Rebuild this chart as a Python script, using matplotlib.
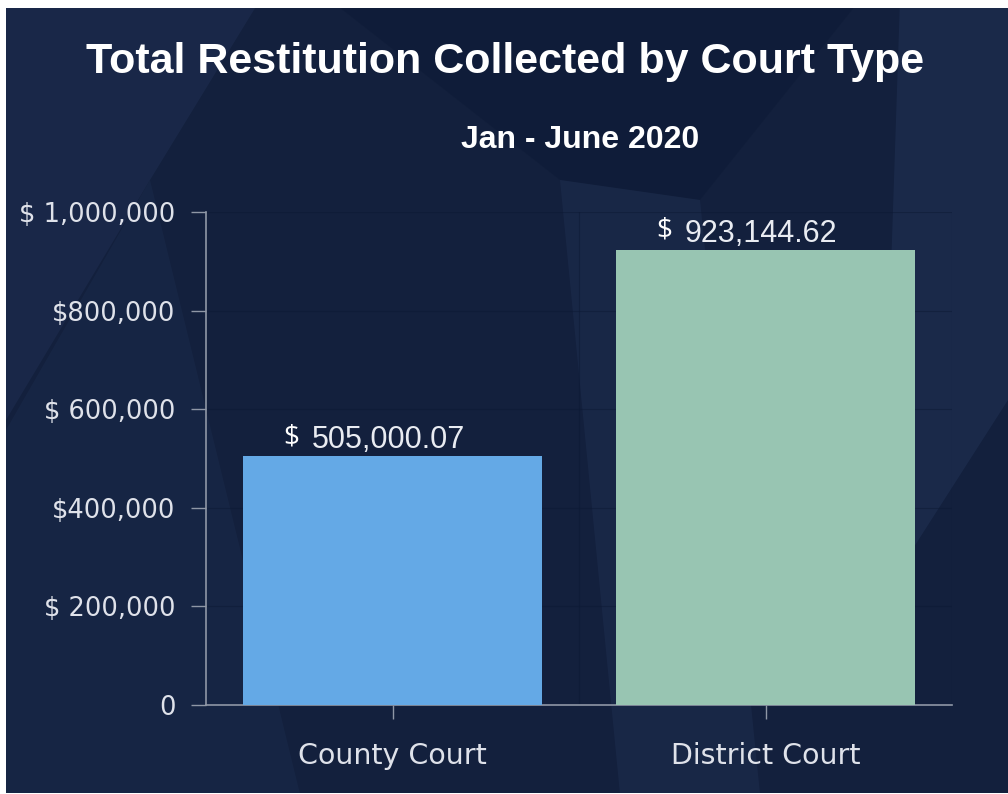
import matplotlib.pyplot as plt
from matplotlib.patches import Rectangle, Polygon

# Data
courts = ['County Court', 'District Court']
collected = [505000.07, 923144.62]
bar_colors = ['#64a9e6', '#98c5b2']
yticks = [0, 200000, 400000, 600000, 800000, 1000000]
ytick_labels = ['0', '$ 200,000', '$400,000', '$ 600,000', '$800,000', '$ 1,000,000']

W, H = 1008, 794
fig = plt.figure(figsize=(W / 100, H / 100), dpi=100, facecolor='white')

# background panel (white margin top/left like the screenshot)
bg = Rectangle((6 / W, 1 / H), 1 - 6 / W, 1 - 9 / H, transform=fig.transFigure,
               facecolor='#13203d', edgecolor='none', zorder=-10)
fig.patches.append(bg)

# faint geometric shapes in the background
shapes = [
    [(6, 0), (260, 0), (150, 180), (6, 420)],
    [(6, 430), (150, 180), (300, 794), (6, 794)],
    [(330, 0), (860, 0), (700, 200), (560, 180)],
    [(560, 180), (700, 200), (760, 794), (620, 794)],
    [(900, 0), (1008, 0), (1008, 400), (880, 600)],
]
shade = ['#1b2a4b', '#182746', '#0f1c38', '#1a2949', '#1c2c4d']
for pts, c in zip(shapes, shade):
    poly = Polygon([(x / W, 1 - y / H) for x, y in pts], closed=True,
                   transform=fig.transFigure, facecolor=c, edgecolor='none',
                   zorder=-9, alpha=0.8)
    poly.set_clip_path(bg)
    fig.patches.append(poly)

ax = fig.add_axes([206 / W, 1 - 705 / H, (952 - 206) / W, (705 - 212) / H])
ax.set_facecolor('none')

x = list(range(len(courts)))
bars = ax.bar(x, collected, width=0.8, color=bar_colors, zorder=3)

ax.set_xlim(-0.5, 1.5)
ax.set_ylim(0, 1000000)
ax.set_yticks(yticks)
ax.set_yticklabels(ytick_labels)
ax.set_xticks(x)
ax.set_xticklabels(courts)
ax.set_xticks([0.5, 1.5], minor=True)
ax.tick_params(axis='x', which='minor', length=0)

for lbl in ax.get_yticklabels() + ax.get_xticklabels():
    lbl.set_family(['DejaVu Sans'])
    lbl.set_color('#dfe2ea')
for lbl in ax.get_yticklabels():
    lbl.set_fontsize(18.5)
for lbl in ax.get_xticklabels():
    lbl.set_fontsize(20.5)

ax.tick_params(axis='y', length=11, width=1, color='#8f97a6', pad=11)
ax.tick_params(axis='x', which='major', length=10, width=1, color='#8f97a6', pad=17)

for side in ['top', 'right']:
    ax.spines[side].set_visible(False)
for side in ['left', 'bottom']:
    ax.spines[side].set_color('#8f97a6')
    ax.spines[side].set_linewidth(1.2)

ax.grid(True, axis='y', color='#0d1a35', linewidth=0.8, alpha=0.5, zorder=0)
ax.grid(True, axis='x', which='minor', color='#0d1a35', linewidth=0.8, alpha=0.5, zorder=0)
ax.set_axisbelow(True)

# value labels
for xi, v in zip(x, collected):
    ax.annotate(f'{v:,.2f}', xy=(xi, v), xytext=(-81, 8), textcoords='offset pixels',
                ha='left', va='baseline', fontsize=22, color='#e9ecf2',
                family='Liberation Sans')
    ax.annotate('$', xy=(xi, v), xytext=(-109, 12), textcoords='offset pixels',
                ha='left', va='baseline', fontsize=20, color='#ffffff',
                family='Open Sans')

fig.text(505 / W, 1 - 62 / H, 'Total Restitution Collected by Court Type',
         ha='center', va='center', fontsize=31, fontweight='bold', color='white',
         family='Liberation Sans')
fig.text(580 / W, 1 - 140 / H, 'Jan - June 2020',
         ha='center', va='center', fontsize=23, fontweight='bold', color='white',
         family='Liberation Sans')

fig.savefig('out.png', dpi=100, facecolor=fig.get_facecolor())
